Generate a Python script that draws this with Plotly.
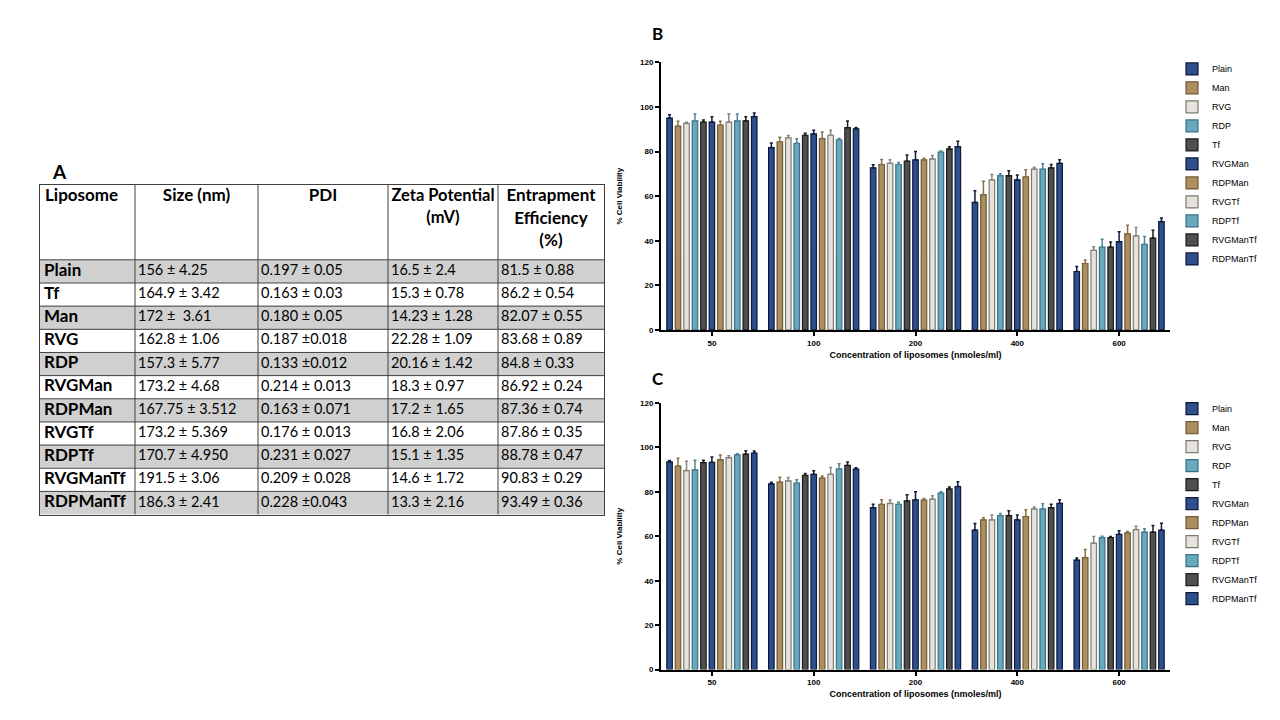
import plotly.graph_objects as go

# ---------------- Table A data ----------------
liposomes = ["Plain", "Tf", "Man", "RVG", "RDP", "RVGMan", "RDPMan", "RVGTf", "RDPTf", "RVGManTf", "RDPManTf"]
size_nm = ["156 ± 4.25", "164.9 ± 3.42", "172 ±  3.61", "162.8 ± 1.06", "157.3 ± 5.77", "173.2 ± 4.68",
           "167.75 ± 3.512", "173.2 ± 5.369", "170.7 ± 4.950", "191.5 ± 3.06", "186.3 ± 2.41"]
pdi = ["0.197 ± 0.05", "0.163 ± 0.03", "0.180 ± 0.05", "0.187 ±0.018", "0.133 ±0.012", "0.214 ± 0.013",
       "0.163 ± 0.071", "0.176 ± 0.013", "0.231 ± 0.027", "0.209 ± 0.028", "0.228 ±0.043"]
zeta = ["16.5 ± 2.4", "15.3 ± 0.78", "14.23 ± 1.28", "22.28 ± 1.09", "20.16 ± 1.42", "18.3 ± 0.97",
        "17.2 ± 1.65", "16.8 ± 2.06", "15.1 ± 1.35", "14.6 ± 1.72", "13.3 ± 2.16"]
entrapment = ["81.5 ± 0.88", "86.2 ± 0.54", "82.07 ± 0.55", "83.68 ± 0.89", "84.8 ± 0.33", "86.92 ± 0.24",
              "87.36 ± 0.74", "87.86 ± 0.35", "88.78 ± 0.47", "90.83 ± 0.29", "93.49 ± 0.36"]
table_headers = ["Liposome", "Size (nm)", "PDI", "Zeta Potential<br>(mV)", "Entrapment<br>Efficiency<br>(%)"]

# ---------------- Bar chart data ----------------
concentrations = ["50", "100", "200", "400", "600"]
series_names = ["Plain", "Man", "RVG", "RDP", "Tf", "RVGMan", "RDPMan", "RVGTf", "RDPTf", "RVGManTf", "RDPManTf"]

b_means = [
    [95.0, 81.8, 72.7, 57.2, 26.2],
    [91.4, 84.4, 74.2, 60.7, 29.8],
    [92.6, 86.2, 74.7, 67.3, 35.7],
    [93.8, 83.7, 74.2, 69.2, 37.2],
    [93.2, 87.3, 75.7, 69.2, 37.2],
    [93.2, 87.9, 76.3, 67.3, 39.6],
    [91.9, 85.8, 76.3, 68.7, 43.1],
    [93.2, 87.3, 76.7, 72.1, 42.2],
    [93.8, 85.3, 79.7, 72.1, 38.4],
    [93.8, 90.7, 81.2, 72.7, 41.2],
    [95.7, 90.2, 82.2, 74.7, 48.6],
]
b_errs = [
    [1.5, 2.0, 1.4, 5.2, 2.2],
    [2.2, 2.0, 2.2, 6.0, 1.6],
    [0.5, 1.0, 1.6, 2.4, 1.6],
    [3.0, 2.0, 0.9, 0.9, 3.5],
    [1.0, 0.9, 2.8, 2.2, 2.2],
    [2.4, 1.6, 3.7, 2.2, 4.4],
    [1.7, 3.0, 0.7, 3.1, 3.9],
    [3.8, 2.2, 1.5, 0.9, 3.7],
    [3.0, 0.6, 0.6, 2.4, 3.5],
    [1.8, 3.0, 0.9, 1.5, 3.5],
    [1.6, 0.6, 2.4, 1.6, 1.6],
]
c_means = [
    [93.5, 83.6, 72.9, 62.8, 49.3],
    [91.6, 84.4, 74.4, 67.4, 50.4],
    [89.6, 84.9, 74.8, 67.4, 56.9],
    [89.9, 83.9, 74.4, 69.3, 59.4],
    [93.2, 87.4, 75.9, 69.3, 59.4],
    [93.3, 87.9, 76.4, 67.4, 60.9],
    [94.5, 86.2, 76.3, 68.9, 61.5],
    [95.4, 87.9, 76.7, 72.3, 63.0],
    [96.6, 90.4, 79.4, 72.3, 61.9],
    [97.0, 91.9, 81.3, 72.9, 61.9],
    [97.5, 90.2, 82.4, 74.8, 62.8],
]
c_errs = [
    [0.6, 0.7, 1.5, 3.0, 0.9],
    [3.5, 2.2, 2.1, 0.9, 3.7],
    [4.2, 1.6, 1.5, 2.2, 3.0],
    [4.3, 1.6, 0.9, 0.9, 0.6],
    [1.0, 0.9, 2.8, 2.2, 0.5],
    [2.4, 1.6, 3.6, 2.2, 1.6],
    [2.1, 0.9, 0.7, 3.0, 0.7],
    [0.9, 3.1, 1.6, 0.9, 1.5],
    [0.6, 2.2, 0.7, 2.4, 1.5],
    [1.5, 1.5, 0.9, 1.5, 3.0],
    [0.9, 0.7, 2.2, 1.6, 3.1],
]
y_ticks = [0, 20, 40, 60, 80, 100, 120]

# ---------------- styling / geometry ----------------
fills = ["#2d4f8e", "#ad8f5f", "#e6e3dc", "#68a9bd", "#4f4f4f"]
outlines = ["#0e1a38", "#6f5a36", "#7c7a72", "#3b6f80", "#1c1c1c"]
errcols = ["#0e1a38", "#8a7048", "#8a877f", "#4f8696", "#1c1c1c"]

FONT = "Liberation Sans, Arial, sans-serif"
TFONT = "Lato, Carlito, sans-serif"
OFF = 8                      # page body margin of the browser
W, H = 1280 - OFF, 720 - OFF


def dx(p):
    return (p - OFF) / W


def dy(p):
    return 1 - (p - OFF) / H


# table geometry (pixels)
T_LEFT, T_TOP, T_BOTTOM = 40, 183, 517
col_w = [95, 123, 130, 110, 106]
header_h = 76
n_rows = len(liposomes)
row_h = (T_BOTTOM - T_TOP - header_h) / n_rows
col_edges = [0]
for w in col_w:
    col_edges.append(col_edges[-1] + w)
row_edges = [0, header_h] + [header_h + row_h * (i + 1) for i in range(n_rows)]
t_width = col_edges[-1]
t_height = row_edges[-1]

fig = go.Figure()

# ---------------- Table (drawn on its own axes) ----------------
shade = [[0] * 5] + [[1 if i % 2 == 0 else 0] * 5 for i in range(n_rows)]
fig.add_trace(go.Heatmap(
    x=col_edges, y=row_edges, z=shade, xaxis="x3", yaxis="y3",
    colorscale=[[0, "#ffffff"], [1, "#d0d0d0"]], zmin=0, zmax=1,
    showscale=False, hoverinfo="skip",
))
columns = [["<b>%s</b>" % l for l in liposomes], size_nm, pdi, zeta, entrapment]
row_centers = [(row_edges[i + 1] + row_edges[i + 2]) / 2 for i in range(n_rows)]
for j, col in enumerate(columns):
    fig.add_trace(go.Scatter(
        x=[col_edges[j] + (4 if j == 0 else 3)] * n_rows, y=row_centers, text=col,
        mode="text", textposition="middle right", xaxis="x3", yaxis="y3",
        textfont=dict(family=TFONT, size=17 if j == 0 else 14.5, color="black"),
        showlegend=False, hoverinfo="skip", cliponaxis=False,
    ))
    fig.add_trace(go.Scatter(
        x=[col_edges[j] + 5 if j == 0 else (col_edges[j] + col_edges[j + 1]) / 2],
        y=[4], text=["<b>%s</b>" % table_headers[j]],
        mode="text", textposition="bottom right" if j == 0 else "bottom center",
        xaxis="x3", yaxis="y3",
        textfont=dict(family=TFONT, size=16.5 if j == 3 else 17, color="black"),
        showlegend=False, hoverinfo="skip", cliponaxis=False,
    ))

table_shapes = []
for xe in col_edges[1:-1]:
    table_shapes.append(dict(type="line", xref="x3", yref="y3", x0=xe, x1=xe, y0=0, y1=t_height,
                             line=dict(color="#404040", width=1), layer="above"))
for ye in row_edges[1:-1]:
    table_shapes.append(dict(type="line", xref="x3", yref="y3", x0=0, x1=t_width, y0=ye, y1=ye,
                             line=dict(color="#404040", width=1), layer="above"))

# ---------------- Bars ----------------
for means, errs, xa, ya, leg in [(b_means, b_errs, "x", "y", "legend"),
                                 (c_means, c_errs, "x2", "y2", "legend2")]:
    for i, name in enumerate(series_names):
        k = i % 5
        fig.add_trace(go.Bar(
            x=concentrations, y=means[i], name=name,
            xaxis=xa, yaxis=ya, legend=leg,
            marker=dict(color=fills[k], line=dict(color=outlines[k], width=1.2)),
            error_y=dict(type="data", array=errs[i], arrayminus=[0] * len(errs[i]),
                         symmetric=False, color=errcols[k], thickness=1.5, width=1.5),
        ))

axis_common_x = dict(
    type="category", showline=True, linecolor="black", linewidth=2,
    ticks="outside", ticklen=4, tickwidth=1.5, tickcolor="black",
    tickfont=dict(family=FONT, size=8, color="black", weight="bold"),
    showgrid=False, zeroline=False,
    title=dict(text="<b>Concentration of liposomes (nmoles/ml)</b>",
               font=dict(family=FONT, size=9, color="black"), standoff=5),
)
axis_common_y = dict(
    range=[0, 120], tickvals=y_ticks, showline=True, linecolor="black", linewidth=2,
    ticks="outside", ticklen=4, tickwidth=1.5, tickcolor="black",
    tickfont=dict(family=FONT, size=8, color="black", weight="bold"),
    showgrid=False, zeroline=False,
    title=dict(text="<b>% Cell Viability</b>", font=dict(family=FONT, size=8, color="black"), standoff=16),
)
table_axis = dict(showline=True, mirror=True, linecolor="#404040", linewidth=1.2,
                  showgrid=False, zeroline=False, showticklabels=False, ticks="", fixedrange=True)

legend_common = dict(
    font=dict(family=FONT, size=9, color="black"), bgcolor="rgba(0,0,0,0)",
    xanchor="left", yanchor="top", traceorder="normal", tracegroupgap=0,
)

fig.update_layout(
    width=W, height=H,
    margin=dict(l=0, r=0, t=0, b=0),
    paper_bgcolor="white", plot_bgcolor="white",
    barmode="group", bargap=0.085, bargroupgap=0.35,
    font=dict(family=FONT, color="black"),
    xaxis=dict(domain=[dx(661), dx(1170)], anchor="y", **axis_common_x),
    yaxis=dict(domain=[dy(330), dy(59)], anchor="x", **axis_common_y),
    xaxis2=dict(domain=[dx(661), dx(1170)], anchor="y2", **axis_common_x),
    yaxis2=dict(domain=[dy(674), dy(404)], anchor="x2", **axis_common_y),
    xaxis3=dict(domain=[dx(T_LEFT), dx(T_LEFT + t_width)], range=[0, t_width], anchor="y3", **table_axis),
    yaxis3=dict(domain=[dy(T_BOTTOM), dy(T_TOP)], range=[t_height, 0], anchor="x3", **table_axis),
    legend=dict(x=dx(1172), y=dy(51), **legend_common),
    legend2=dict(x=dx(1172), y=dy(395), **legend_common),
    shapes=table_shapes,
    annotations=[
        dict(text="<b>A</b>", x=dx(50), y=dy(170), xref="paper", yref="paper",
             showarrow=False, xanchor="left", yanchor="middle",
             font=dict(family=TFONT, size=19, color="black")),
        dict(text="<b>B</b>", x=dx(650), y=dy(30), xref="paper", yref="paper",
             showarrow=False, xanchor="left", yanchor="middle",
             font=dict(family=TFONT, size=17, color="black")),
        dict(text="<b>C</b>", x=dx(650), y=dy(379), xref="paper", yref="paper",
             showarrow=False, xanchor="left", yanchor="middle",
             font=dict(family=TFONT, size=17, color="black")),
    ],
)

fig.write_html("out.html")
